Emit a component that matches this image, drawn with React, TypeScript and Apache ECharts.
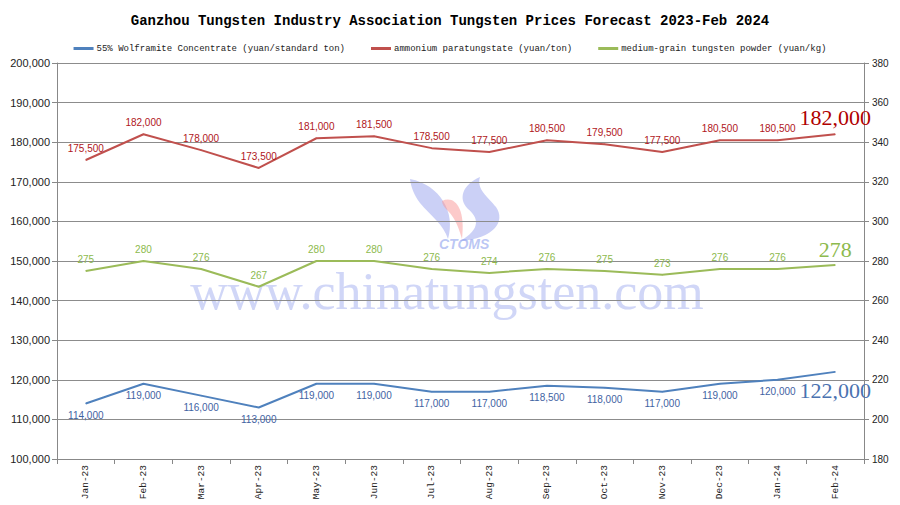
import React, { useEffect, useRef } from "react";
import * as echarts from "echarts";

const categories = ["Jan-23", "Feb-23", "Mar-23", "Apr-23", "May-23", "Jun-23", "Jul-23", "Aug-23", "Sep-23", "Oct-23", "Nov-23", "Dec-23", "Jan-24", "Feb-24"];
const wolframite = [114000, 119000, 116000, 113000, 119000, 119000, 117000, 117000, 118500, 118000, 117000, 119000, 120000, 122000];
const apt = [175500, 182000, 178000, 173500, 181000, 181500, 178500, 177500, 180500, 179500, 177500, 180500, 180500, 182000];
const powder = [275, 280, 276, 267, 280, 280, 276, 274, 276, 275, 273, 276, 276, 278];

const seriesNames = [
  "55% Wolframite Concentrate (yuan/standard ton)",
  "ammonium paratungstate (yuan/ton)",
  "medium-grain tungsten powder (yuan/kg)",
];
const titleText = "Ganzhou Tungsten Industry Association Tungsten Prices Forecast 2023-Feb 2024";

const BLUE = "#4F81BD";
const RED = "#C0504D";
const GREEN = "#9BBB59";

const fmt = (v: number) => v.toLocaleString("en-US");

echarts.graphic.registerShape(
  "logoLeft",
  echarts.graphic.extendPath("M0,2 C30,8 46,35 38,62 C34,48 20,38 10,26 C4,18 1,10 0,2 Z", {})
);
echarts.graphic.registerShape(
  "logoMid",
  echarts.graphic.extendPath("M32,24 C44,18 56,30 52,62 C48,48 44,40 38,34 C34,30 32,27 32,24 Z", {})
);
echarts.graphic.registerShape(
  "logoRight",
  echarts.graphic.extendPath("M70,0 C52,8 48,22 58,32 C68,40 72,52 50,64 C84,62 96,44 86,30 C78,20 66,12 70,0 Z", {})
);

function buildData(values: number[], big: any) {
  return values.map((v, i) => (i === values.length - 1 ? { value: v, label: big } : v));
}

export default function App() {
  const ref = useRef<HTMLDivElement>(null);
  useEffect(() => {
    if (!ref.current) return;
    const chart = echarts.init(ref.current, null, { renderer: "svg" });
    const bigLabel = (color: string, pos: string, dist: number) => ({
      fontSize: 22,
      fontFamily: "Liberation Serif",
      color,
      position: pos,
      distance: dist,
    });
    chart.setOption({
      animation: false,
      backgroundColor: "#ffffff",
      title: {
        text: titleText,
        left: "center",
        top: 9,
        textStyle: { fontFamily: "Liberation Mono", fontWeight: "bold", fontSize: 14, color: "#000" },
      },
      legend: {
        top: 39,
        left: "center",
        itemGap: 26,
        itemWidth: 20,
        itemHeight: 3,
        icon: "rect",
        textStyle: { fontFamily: "Liberation Mono", fontSize: 9, color: "#222", padding: [0, 0, 0, -2] },
        data: seriesNames,
      },
      grid: { left: 57, right: 36, top: 63, bottom: 46 },
      xAxis: {
        type: "category",
        data: categories,
        boundaryGap: true,
        axisLine: { lineStyle: { color: "#888" } },
        axisTick: { show: true, length: 5, lineStyle: { color: "#888" } },
        axisLabel: { rotate: 90, fontFamily: "Liberation Mono", fontSize: 9.5, color: "#222", margin: 6 },
      },
      yAxis: [
        {
          type: "value",
          min: 100000,
          max: 200000,
          interval: 10000,
          axisLine: { show: true, lineStyle: { color: "#888" } },
          axisTick: { show: true, length: 5, lineStyle: { color: "#888" } },
          axisLabel: { formatter: (v: number) => fmt(v), fontFamily: "Liberation Sans", fontSize: 11, color: "#222", margin: 7 },
          splitLine: { lineStyle: { color: "#8c8c8c", width: 1 } },
        },
        {
          type: "value",
          min: 180,
          max: 380,
          interval: 20,
          position: "right",
          axisLine: { show: true, lineStyle: { color: "#888" } },
          axisTick: { show: true, length: 5, lineStyle: { color: "#888" } },
          axisLabel: { fontFamily: "Liberation Sans", fontSize: 10, color: "#222", margin: 8 },
          splitLine: { show: false },
        },
      ],
      graphic: [
        {
          type: "group",
          x: 410,
          y: 177,
          z: 0,
          silent: true,
          children: [
            { type: "logoLeft", x: 0, y: 0, style: { fill: "rgba(140,150,235,0.45)" } },
            { type: "logoMid", x: 0, y: 0, style: { fill: "rgba(250,150,150,0.5)" } },
            { type: "logoRight", x: 0, y: 0, style: { fill: "rgba(140,150,235,0.45)" } },
            {
              type: "text",
              x: 29,
              y: 60,
              style: { text: "CTOMS", fontSize: 14, fontStyle: "italic", fontWeight: "bold", fontFamily: "Liberation Sans", fill: "rgba(130,150,235,0.55)" },
            },
          ],
        },
        {
          type: "text",
          x: 447,
          y: 291,
          z: 0,
          silent: true,
          style: {
            text: "www.chinatungsten.com",
            fontSize: 52,
            fontFamily: "Liberation Serif",
            fill: "rgba(170,180,240,0.55)",
            align: "center",
            verticalAlign: "middle",
          },
        },
      ],
      series: [
        {
          name: seriesNames[0],
          type: "line",
          yAxisIndex: 0,
          data: buildData(wolframite, bigLabel("#4A72B0", "bottom", 7)),
          color: BLUE,
          symbol: "circle",
          symbolSize: 1,
          lineStyle: { width: 2, color: BLUE },
          label: {
            show: true,
            position: "bottom",
            distance: 6,
            formatter: (p: any) => fmt(p.value),
            fontFamily: "Liberation Sans",
            fontSize: 10,
            color: "#3F63A3",
          },
          z: 3,
        },
        {
          name: seriesNames[1],
          type: "line",
          yAxisIndex: 0,
          data: buildData(apt, bigLabel("#B00000", "top", 5)),
          color: RED,
          symbol: "circle",
          symbolSize: 1,
          lineStyle: { width: 2, color: RED },
          label: {
            show: true,
            position: "top",
            distance: 6,
            formatter: (p: any) => fmt(p.value),
            fontFamily: "Liberation Sans",
            fontSize: 10,
            color: "#B0161B",
          },
          z: 3,
        },
        {
          name: seriesNames[2],
          type: "line",
          yAxisIndex: 1,
          data: buildData(powder, bigLabel("#8DBA4E", "top", 4)),
          color: GREEN,
          symbol: "circle",
          symbolSize: 1,
          lineStyle: { width: 2, color: GREEN },
          label: {
            show: true,
            position: "top",
            distance: 6,
            formatter: (p: any) => fmt(p.value),
            fontFamily: "Liberation Sans",
            fontSize: 10,
            color: "#8DBA4E",
          },
          z: 3,
        },
      ],
    });
    return () => chart.dispose();
  }, []);
  return <div ref={ref} style={{ width: 900, height: 505, position: "absolute", left: 0, top: 0 }} />;
}
